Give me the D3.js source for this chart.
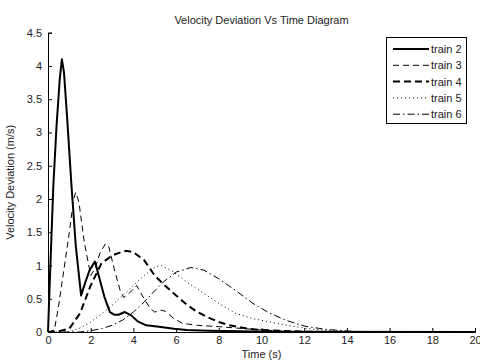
<!DOCTYPE html>
<html><head><meta charset="utf-8">
<script src="https://cdn.jsdelivr.net/npm/d3@7"></script>
<style>body{margin:0;background:#fff}svg{display:block}text{font-family:"Liberation Sans",Arial,sans-serif}</style>
</head><body>
<svg id="c" width="480" height="361"></svg>
<script>
const title = "Velocity Deviation Vs Time Diagram";
const xLabel = "Time (s)";
const yLabel = "Velocity Deviation (m/s)";
const xTicks = [0,2,4,6,8,10,12,14,16,18,20];
const yTicks = [0,0.5,1,1.5,2,2.5,3,3.5,4,4.5];
const seriesNames = ["train 2","train 3","train 4","train 5","train 6"];

const train2T = [0,0.1,0.25,0.4,0.55,0.65,0.75,0.9,1.1,1.3,1.55,1.75,1.95,2.2,2.4,2.65,2.9,3.1,3.3,3.6,3.9,4.2,4.6,5.2,5.9,6.5,7.5,9,10,20];
const train2V = [0,0.9,2.2,3.1,3.8,4.1,3.9,3.2,2.2,1.3,0.55,0.75,0.93,1.06,0.82,0.52,0.3,0.26,0.26,0.3,0.25,0.16,0.1,0.08,0.05,0.03,0.02,0.01,0.005,0];

const train3T = [0,0.3,0.5,0.75,1.0,1.2,1.3,1.45,1.7,2.0,2.2,2.45,2.7,2.85,3.1,3.4,3.55,3.8,4.15,4.5,4.8,5.0,5.3,5.5,5.9,6.3,7,8,9,10,11,12,13,20];
const train3V = [0,0.03,0.4,0.95,1.5,2.0,2.1,1.95,1.35,0.85,0.95,1.2,1.33,1.28,0.95,0.6,0.52,0.58,0.7,0.5,0.35,0.3,0.33,0.31,0.2,0.13,0.1,0.08,0.055,0.03,0.015,0.005,0,0];

const train4T = [0,0.5,1,1.5,2,2.5,3,3.5,3.7,4,4.5,5,5.5,6,6.5,7,7.5,8,8.5,9,9.5,10,11,12,13,20];
const train4V = [0,0.01,0.05,0.28,0.7,1.03,1.15,1.21,1.22,1.2,1.08,0.85,0.69,0.55,0.41,0.3,0.22,0.15,0.1,0.07,0.045,0.03,0.015,0.005,0,0];

const train5T = [0,1,1.5,2,2.5,3,3.5,4,4.5,5,5.3,5.8,6.5,7.3,8.1,8.8,9.6,10.4,11.2,12.1,13,14,15,20];
const train5V = [0,0,0.06,0.15,0.27,0.4,0.55,0.7,0.85,0.97,1.0,0.92,0.75,0.58,0.41,0.28,0.2,0.15,0.1,0.055,0.025,0.01,0,0];

const train6T = [0,1.5,2,2.5,3,3.5,4,4.5,5,5.4,6,6.7,7.3,8,8.8,9.6,10.4,11.2,12,13,14,15,20];
const train6V = [0,0,0.02,0.05,0.1,0.18,0.3,0.45,0.62,0.75,0.9,0.97,0.93,0.8,0.62,0.43,0.28,0.17,0.09,0.04,0.015,0,0];

const allT = [train2T,train3T,train4T,train5T,train6T];
const allV = [train2V,train3V,train4V,train5V,train6V];
const styles = [
  {w:2, dash:null},
  {w:1, dash:"6,4"},
  {w:2, dash:"7,4"},
  {w:1, dash:"1,3"},
  {w:1, dash:"7,3,1.5,3"}
];

const svg = d3.select("#c");
const L=48, R=475, T=32.7, B=332;
const x = d3.scaleLinear().domain([0,20]).range([L,R]);
const y = d3.scaleLinear().domain([0,4.5]).range([B,T]);

const line = d3.line().x(d=>x(d[0])).y(d=>y(d[1]));
const g = svg.append("g");
allT.forEach((ts,i)=>{
  const pts = ts.map((t,j)=>[t, allV[i][j]]);
  const p = g.append("path").attr("d", line(pts)).attr("fill","none")
    .attr("stroke","#000").attr("stroke-width",styles[i].w).attr("stroke-linejoin","round");
  if (styles[i].dash) p.attr("stroke-dasharray", styles[i].dash);
});

// axes (MATLAB style, ticks inward)
const xa = svg.append("g").attr("transform",`translate(0,${B})`)
  .call(d3.axisBottom(x).tickValues(xTicks).tickSize(-4).tickPadding(4).tickFormat(d3.format("d")));
const ya = svg.append("g").attr("transform",`translate(${L},0)`)
  .call(d3.axisLeft(y).tickValues(yTicks).tickSize(-4).tickPadding(6).tickFormat(d=>String(d)));
[xa,ya].forEach(a=>{
  a.selectAll("text").attr("font-size",11).attr("fill","#222").attr("font-family","Liberation Sans, Arial, sans-serif");
  a.select(".domain").attr("stroke","#000");
  a.selectAll(".tick line").attr("stroke","#000");
});

svg.append("text").attr("x",(L+R)/2).attr("y",24).attr("text-anchor","middle")
  .attr("font-size",11).attr("fill","#222").text(title);
svg.append("text").attr("x",(L+R)/2).attr("y",358).attr("text-anchor","middle")
  .attr("font-size",11).attr("fill","#222").text(xLabel);
svg.append("text").attr("transform",`translate(14,${(T+B)/2}) rotate(-90)`).attr("text-anchor","middle")
  .attr("font-size",11).attr("fill","#222").text(yLabel);

// legend
const lg = svg.append("g");
lg.append("rect").attr("x",386.5).attr("y",37.5).attr("width",80).attr("height",86)
  .attr("fill","#fff").attr("stroke","#000");
seriesNames.forEach((n,i)=>{
  const yy = 49 + i*16.3;
  const l = lg.append("line").attr("x1",393).attr("x2",429).attr("y1",yy).attr("y2",yy)
    .attr("stroke","#000").attr("stroke-width",styles[i].w);
  if (styles[i].dash) l.attr("stroke-dasharray", styles[i].dash);
  lg.append("text").attr("x",431).attr("y",yy+4).attr("font-size",11).attr("fill","#222").text(n);
});
</script>
</body></html>
